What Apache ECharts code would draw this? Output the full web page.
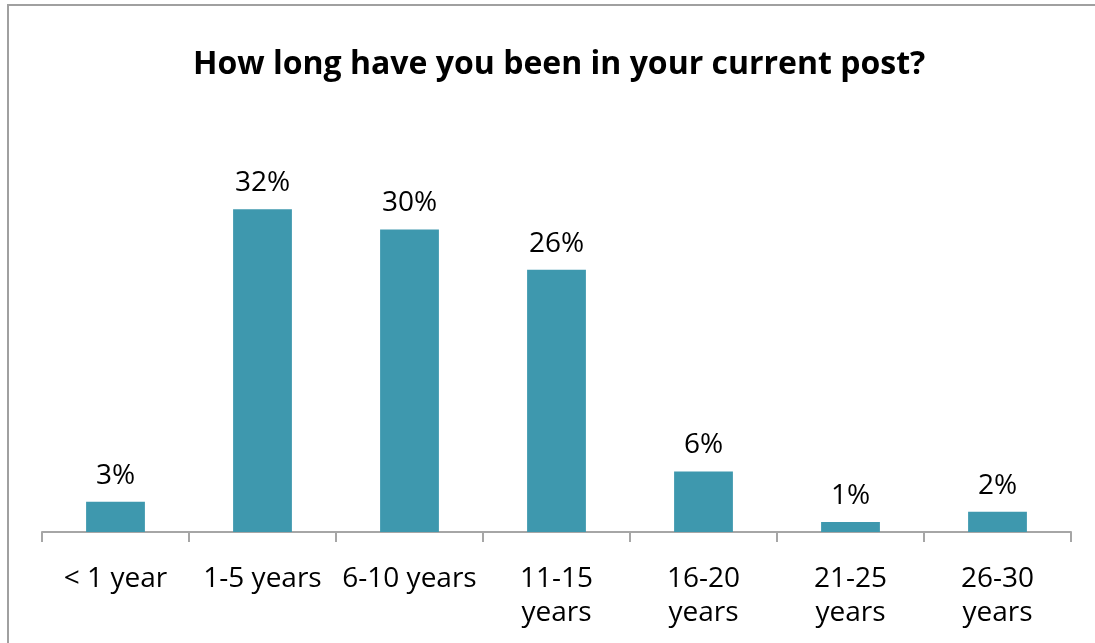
<!DOCTYPE html>
<html>
<head>
<meta charset="utf-8">
<script src="https://cdn.jsdelivr.net/npm/echarts@6/dist/echarts.min.js"></script>
<style>
  html, body { margin: 0; padding: 0; background: #ffffff; }
  #chart { width: 1095px; height: 643px; }
</style>
</head>
<body>
<div id="chart"></div>
<script>
// Time in current post, share of respondents (%)
const categories = ['< 1 year', '1-5 years', '6-10 years', '11-15\nyears', '16-20\nyears', '21-25\nyears', '26-30\nyears'];
const shares = [3, 32, 30, 26, 6, 1, 2];
const chartTitle = 'How long have you been in your current post?';

const font = '"Open Sans", "Liberation Sans", sans-serif';
const chart = echarts.init(document.getElementById('chart'));

chart.setOption({
  animation: false,
  title: {
    text: chartTitle,
    left: 188,
    top: 44,
    textStyle: { fontFamily: font, fontSize: 32, fontWeight: 'bold', color: '#000' }
  },
  graphic: [{
    type: 'rect',
    shape: { x: 8, y: 5, width: 1200, height: 700 },
    style: { fill: 'none', stroke: '#a0a0a0', lineWidth: 2 },
    silent: true
  }],
  grid: { left: 42, right: 24, top: 179, height: 353 },
  xAxis: {
    type: 'category',
    data: categories,
    axisLine: { lineStyle: { color: '#a6a6a6', width: 2 } },
    axisTick: { show: true, interval: 0, length: 10, lineStyle: { color: '#a6a6a6', width: 2 } },
    axisLabel: {
      interval: 0,
      hideOverlap: false,
      fontFamily: font,
      fontSize: 28,
      color: '#000',
      margin: 30,
      lineHeight: 34
    }
  },
  yAxis: {
    type: 'value',
    min: 0,
    max: 35,
    show: false,
    splitLine: { show: false }
  },
  series: [{
    type: 'bar',
    data: shares,
    barWidth: '40%',
    itemStyle: { color: '#3e98ae' },
    label: {
      show: true,
      position: 'top',
      distance: 12,
      formatter: '{c}%',
      fontFamily: font,
      fontSize: 28,
      color: '#000'
    }
  }]
});
</script>
</body>
</html>
